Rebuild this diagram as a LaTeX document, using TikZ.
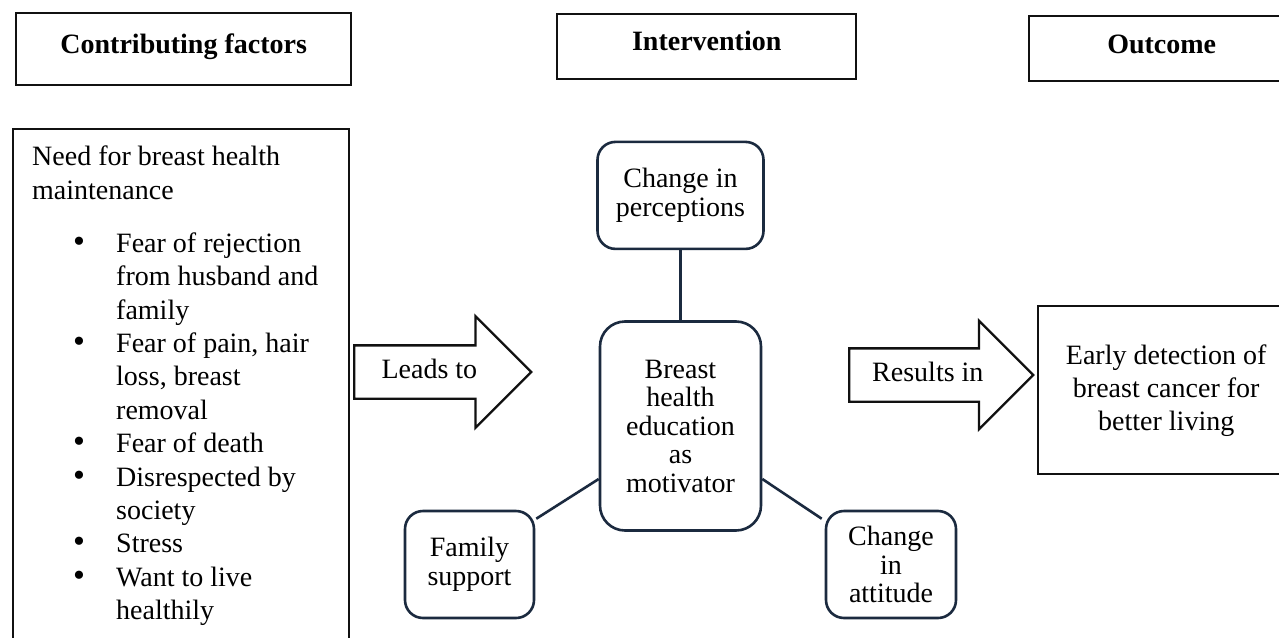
\documentclass[tikz,border=0pt]{standalone}
\usepackage{fontspec}
\setmainfont{Liberation Serif}
\usepackage{tikz}
\usetikzlibrary{positioning, calc, shapes.arrows}
\definecolor{bdr}{HTML}{111111}
\definecolor{navy}{HTML}{1B2A3F}
\newcommand{\facbul}{\makebox[84pt][l]{\hspace*{41pt}{\fontsize{34}{34}\selectfont\textbullet}}}
\newcommand{\facind}{\hspace*{84pt}}
\tikzset{
  % column headers (text sits in the upper part of the box)
  head/.style={draw=bdr, line width=2.4pt, inner sep=0pt,
    font=\fontsize{28}{33}\selectfont\bfseries},
  % plain square boxes
  sq/.style={draw=bdr, line width=2.4pt, inner sep=0pt, align=center,
    font=\fontsize{28}{33}\selectfont},
  % rounded intervention boxes
  rbox/.style={draw=navy, line width=2.6pt, rounded corners=18pt,
    inner sep=0pt, align=center, font=\fontsize{28}{28.5}\selectfont},
  link/.style={draw=navy, line width=2.6pt},
  % hollow block arrows
  blk/.style={single arrow, draw=bdr, line width=2.4pt,
    single arrow tip angle=90, single arrow head indent=0pt,
    inner xsep=6pt, inner ysep=13pt, text height=19pt, text depth=6pt,
    font=\fontsize{28}{33}\selectfont},
  txt/.style={inner sep=0pt, align=left, font=\fontsize{28}{33.4}\selectfont},
}

\begin{document}
\begin{tikzpicture}[x=1pt, y=-1pt]
\useasboundingbox (0,0) rectangle (1279,637);
\clip (0,0) rectangle (1279,637);

% ---- headers -------------------------------------------------------
\node[head, anchor=north west, minimum width=335pt,
      text height=40pt, text depth=32pt] (hfac) at (15,12) {Contributing factors};
\node[head, anchor=north west, minimum width=299pt,
      text height=36pt, text depth=29pt] (hint) at (556,13) {Intervention};
\node[head, anchor=north west, minimum width=265pt,
      text height=37pt, text depth=28pt] (hout) at (1028,15) {Outcome};

% ---- contributing factors ------------------------------------------
\node[sq, anchor=north west, minimum width=336pt, minimum height=560pt] (need) at (12,128) {};
\node[txt, anchor=north west] (needtxt) at ($(need.north west)+(20,18)$) {%
  Need for breast health\\
  maintenance\\[19.5pt]
  \facbul Fear of rejection\\
  \facind from husband and\\
  \facind family\\
  \facbul Fear of pain, hair\\
  \facind loss, breast\\
  \facind removal\\
  \facbul Fear of death\\
  \facbul Disrespected by\\
  \facind society\\
  \facbul Stress\\
  \facbul Want to live\\
  \facind healthily};

\node[blk, anchor=tail, minimum height=177pt, single arrow head extend=29pt] (leads) at (353,372) {Leads to};

% ---- intervention --------------------------------------------------
\node[rbox, rounded corners=25pt, minimum width=161pt, minimum height=209pt] (edu) at (680.5,426)
  {Breast\\ health\\ education\\ as\\ motivator};
\node[rbox, above=70pt of edu, minimum width=166pt, minimum height=107pt] (perc) {Change in\\ perceptions};
\node[rbox, minimum width=129pt, minimum height=107pt] (fam) at (469.5,564.5) {Family\\ support};
\node[rbox, minimum width=130pt, minimum height=107pt] (att) at (891,564.5) {Change\\ in\\ attitude};

\draw[link] (perc) -- (edu);
\draw[link] ($(fam.north east)+(1,9)$) -- ($(edu.west)+(0,53)$);
\draw[link] ($(edu.east)+(0,53)$) -- ($(att.north west)+(-3,9)$);

\node[blk, anchor=tail, minimum height=184pt, single arrow head extend=27.5pt] (res) at (848,375) {Results in};

% ---- outcome -------------------------------------------------------
\node[sq, anchor=north west, minimum width=256pt, minimum height=168pt] (early) at (1037,305)
  {Early detection of\\ breast cancer for\\ better living};

\end{tikzpicture}
\end{document}
